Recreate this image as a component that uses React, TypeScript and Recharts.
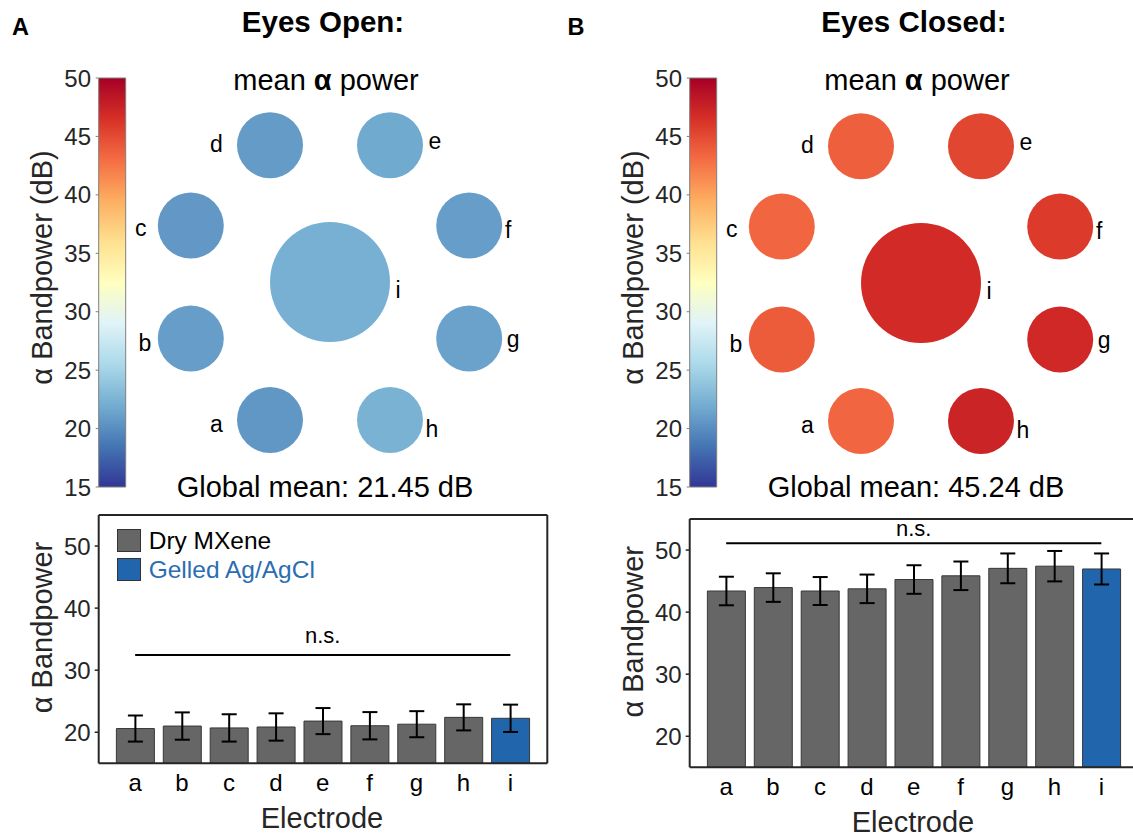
import React from 'react';
import {
  BarChart,
  Bar,
  XAxis,
  YAxis,
  ErrorBar,
  ReferenceLine,
  Legend,
  ScatterChart,
  Scatter,
} from 'recharts';

const FONT = '"Liberation Sans", Arial, Helvetica, sans-serif';

// ---- data ----
const electrodes = ['a', 'b', 'c', 'd', 'e', 'f', 'g', 'h', 'i'];
const referenceElectrode = 'i';

// mean alpha bandpower (dB) and error per electrode
const openMean = [20.6, 21.0, 20.7, 20.85, 21.8, 21.05, 21.3, 22.4, 22.25];
const openErr = [2.1, 2.2, 2.2, 2.2, 2.1, 2.2, 2.1, 2.1, 2.2];
const closedMean = [43.4, 43.95, 43.4, 43.75, 45.25, 45.85, 47.05, 47.4, 46.95];
const closedErr = [2.3, 2.3, 2.25, 2.3, 2.3, 2.3, 2.4, 2.45, 2.5];

const openGlobalMean = 21.45;
const closedGlobalMean = 45.24;

// height of the n.s. comparison bracket
const openSigLevel = 32.45;
const closedSigLevel = 51.1;

// electrode layout on the head (arbitrary units, centre = reference)
const electrodeX = [-0.5, -1.16, -1.16, -0.5, 0.5, 1.16, 1.16, 0.5, 0];
const electrodeY = [-1.15, -0.47, 0.47, 1.14, 1.14, 0.47, -0.47, -1.15, 0];

const barTicks = [20, 30, 40, 50];
const colorbarTicks = [15, 20, 25, 30, 35, 40, 45, 50];
const colorRange: [number, number] = [15, 50];

const seriesNames = ['Dry MXene', 'Gelled Ag/AgCl'];

// ---- styles ----
const colormapStops = [
  '#313695', '#4575b4', '#74add1', '#abd9e9', '#e0f3f8', '#ffffbf',
  '#fee090', '#fdae61', '#f46d43', '#d73027', '#a50026',
];
const DRY_FILL = '#666666';
const GEL_FILL = '#2166ac';
const GEL_TEXT = '#2a6db2';
const AXIS = '#262626';

// label placement around each electrode disc: [dx to glyph centre, dy to baseline]
const labelOffset: Record<string, [number, number]> = {
  a: [-53.5, 11.7],
  b: [-46, 12.7],
  c: [-50, 10.4],
  d: [-53.5, 7],
  e: [45, 3.3],
  f: [39, 12],
  g: [44, 8.5],
  h: [42, 17],
  i: [68, 15.7],
};

function hexToRgb(h: string) {
  const n = parseInt(h.slice(1), 16);
  return [(n >> 16) & 255, (n >> 8) & 255, n & 255];
}

function colormap(v: number) {
  const t = Math.min(1, Math.max(0, (v - colorRange[0]) / (colorRange[1] - colorRange[0])));
  const pos = t * (colormapStops.length - 1);
  const k = Math.min(colormapStops.length - 2, Math.floor(pos));
  const f = pos - k;
  const c0 = hexToRgb(colormapStops[k]);
  const c1 = hexToRgb(colormapStops[k + 1]);
  const c = c0.map((x, j) => Math.round(x + (c1[j] - x) * f));
  return `rgb(${c[0]},${c[1]},${c[2]})`;
}

function ElectrodeDisc(props: any) {
  const { cx, cy, payload } = props;
  const isRef = payload.name === referenceElectrode;
  const r = isRef ? 60 : 33;
  const [lx, ly] = labelOffset[payload.name];
  return (
    <g>
      <circle cx={cx} cy={cy} r={r} fill={colormap(payload.value)} />
      <text x={cx + lx} y={cy + ly} textAnchor="middle" fontSize={23} fill="#000">
        {payload.name}
      </text>
    </g>
  );
}

function Topography({ means }: { means: number[] }) {
  const data = electrodes.map((name, k) => ({
    name,
    x: electrodeX[k],
    y: electrodeY[k],
    value: means[k],
  }));
  return (
    <ScatterChart width={400} height={400} margin={{ top: 0, right: 0, bottom: 0, left: 0 }}>
      <XAxis type="number" dataKey="x" domain={[-5 / 3, 5 / 3]} hide />
      <YAxis type="number" dataKey="y" domain={[-5 / 3, 5 / 3]} hide />
      <Scatter data={data} isAnimationActive={false} shape={(p: any) => <ElectrodeDisc {...p} />} />
    </ScatterChart>
  );
}

function Colorbar({ gradId }: { gradId: string }) {
  const data = [{ name: 'cb', range: colorRange }];
  return (
    <BarChart
      width={130}
      height={450}
      data={data}
      margin={{ top: 18, right: 4, bottom: 23, left: 0 }}
      barCategoryGap={0}
    >
      <defs>
        <linearGradient id={gradId} x1="0" y1="1" x2="0" y2="0">
          {colormapStops.map((c, k) => (
            <stop key={k} offset={k / (colormapStops.length - 1)} stopColor={c} />
          ))}
        </linearGradient>
      </defs>
      <XAxis dataKey="name" hide />
      <YAxis
        type="number"
        domain={colorRange}
        ticks={colorbarTicks}
        interval={0}
        width={98.7}
        tickSize={3}
        tickMargin={4.7}
        axisLine={false}
        tickLine={{ stroke: '#7f7f7f' }}
        tick={{ fontSize: 24, fill: AXIS }}
      />
      <Bar dataKey="range" fill={`url(#${gradId})`} stroke="#7f7f7f" strokeWidth={1} isAnimationActive={false} />
    </BarChart>
  );
}

function LegendContent(props: any) {
  const { payload } = props;
  return (
    <div style={{ fontFamily: FONT }}>
      {(payload || []).map((p: any, k: number) => (
        <div key={k} style={{ display: 'flex', alignItems: 'center', height: 29 }}>
          <span
            style={{
              display: 'inline-block',
              width: 23.4,
              height: 22.4,
              background: p.color,
              border: '1px solid #333',
              boxSizing: 'border-box',
            }}
          />
          <span
            style={{
              marginLeft: 8,
              fontSize: 24.5,
              lineHeight: '29px',
              color: k === 0 ? '#000' : GEL_TEXT,
              whiteSpace: 'nowrap',
            }}
          >
            {p.value}
          </span>
        </div>
      ))}
    </div>
  );
}

function ElectrodeBars({
  means,
  errs,
  sig,
  sigOffset,
  showLegend,
}: {
  means: number[];
  errs: number[];
  sig: number;
  sigOffset: number;
  showLegend: boolean;
}) {
  const rows = electrodes.map((name, k) => {
    const isRef = name === referenceElectrode;
    return {
      name,
      dry: isRef ? null : means[k],
      dryErr: isRef ? undefined : errs[k],
      gel: isRef ? means[k] : null,
      gelErr: isRef ? errs[k] : undefined,
    };
  });
  const pad = { left: 13, right: 13.5 };
  const frame = { stroke: AXIS, strokeWidth: 2 };
  return (
    <BarChart
      width={560}
      height={337}
      data={rows}
      margin={{ top: 15, right: 12.7, bottom: 43.7, left: 0 }}
      barCategoryGap="10%"
    >
      <XAxis
        xAxisId="bottom"
        dataKey="name"
        padding={pad}
        height={30}
        tickLine={false}
        tickSize={6}
        tickMargin={4.4}
        axisLine={frame}
        tick={{ fontSize: 24, fill: '#000' }}
        interval={0}
      />
      <XAxis
        xAxisId="top"
        dataKey="name"
        orientation="top"
        padding={pad}
        height={30}
        mirror
        tick={false}
        tickSize={5}
        axisLine={frame}
        tickLine={{ stroke: AXIS, strokeWidth: 1.5 }}
        interval={0}
      />
      <YAxis
        yAxisId="left"
        type="number"
        domain={[15, 55]}
        ticks={barTicks}
        interval={0}
        width={98.7}
        tickSize={4}
        tickMargin={4}
        axisLine={frame}
        tickLine={{ stroke: AXIS, strokeWidth: 1.5 }}
        tick={{ fontSize: 24, fill: AXIS }}
      />
      <YAxis
        yAxisId="right"
        orientation="right"
        type="number"
        domain={[15, 55]}
        ticks={barTicks}
        interval={0}
        width={30}
        mirror
        tick={false}
        tickSize={5}
        axisLine={frame}
        tickLine={{ stroke: AXIS, strokeWidth: 1.5 }}
      />
      <Bar
        xAxisId="bottom"
        yAxisId="left"
        dataKey="dry"
        name={seriesNames[0]}
        fill={DRY_FILL}
        stroke="#383838"
        strokeWidth={1}
        isAnimationActive={false}
      >
        <ErrorBar dataKey="dryErr" width={7.5} stroke="#000" strokeWidth={2} />
      </Bar>
      <Bar
        xAxisId="top"
        yAxisId="right"
        dataKey="gel"
        name={seriesNames[1]}
        fill={GEL_FILL}
        stroke="#383838"
        strokeWidth={1}
        isAnimationActive={false}
      >
        <ErrorBar dataKey="gelErr" width={7.5} stroke="#000" strokeWidth={2} />
      </Bar>
      <ReferenceLine
        xAxisId="bottom"
        yAxisId="left"
        segment={[
          { x: electrodes[0], y: sig },
          { x: electrodes[electrodes.length - 1], y: sig },
        ]}
        stroke="#000"
        strokeWidth={2}
        label={{ value: 'n.s.', position: 'top', offset: sigOffset, fontSize: 22, fill: '#000' }}
      />
      {showLegend && (
        <Legend
          layout="vertical"
          align="center"
          verticalAlign="middle"
          content={<LegendContent />}
          wrapperStyle={{ position: 'absolute', left: 117.3, top: 26, width: 'auto', height: 'auto' }}
        />
      )}
    </BarChart>
  );
}

type PanelSpec = {
  letter: string;
  title: string;
  means: number[];
  errs: number[];
  globalMean: number;
  sig: number;
  sigOffset: number;
  dx: number;
  topoDy: number;
  barDy: number;
  letterX: number;
  showLegend: boolean;
};

const panels: PanelSpec[] = [
  {
    letter: 'A',
    title: 'Eyes Open:',
    means: openMean,
    errs: openErr,
    globalMean: openGlobalMean,
    sig: openSigLevel,
    sigOffset: 12,
    dx: 0,
    topoDy: 0,
    barDy: 0,
    letterX: 12,
    showLegend: true,
  },
  {
    letter: 'B',
    title: 'Eyes Closed:',
    means: closedMean,
    errs: closedErr,
    globalMean: closedGlobalMean,
    sig: closedSigLevel,
    sigOffset: 7,
    dx: 590.6,
    topoDy: 1,
    barDy: 4.3,
    letterX: -23.6,
    showLegend: false,
  },
];

function Panel({ spec }: { spec: PanelSpec }) {
  const abs = (left: number, top: number): React.CSSProperties => ({ position: 'absolute', left, top });
  return (
    <div style={{ position: 'absolute', left: spec.dx, top: 0, width: 560, height: 837 }}>
      <div style={abs(0, 60)}>
        <Colorbar gradId={`cbGrad${spec.letter}`} />
      </div>
      <div style={abs(130, 82 + spec.topoDy)}>
        <Topography means={spec.means} />
      </div>
      <div style={abs(0, 500 + spec.barDy)}>
        <ElectrodeBars
          means={spec.means}
          errs={spec.errs}
          sig={spec.sig}
          sigOffset={spec.sigOffset}
          showLegend={spec.showLegend}
        />
      </div>
      <svg
        width={560}
        height={837}
        style={{ position: 'absolute', left: 0, top: 0, pointerEvents: 'none', overflow: 'visible' }}
      >
        <text x={spec.letterX} y={35} fontSize={23.5} fontWeight="bold" fill="#000">
          {spec.letter}
        </text>
        <text x={323} y={32} textAnchor="middle" fontSize={29.5} fontWeight="bold" fill="#000">
          {spec.title}
        </text>
        <text x={326} y={89.5} textAnchor="middle" fontSize={29} fill="#000">
          mean <tspan fontWeight="bold">α</tspan> power
        </text>
        <text x={325} y={497} textAnchor="middle" fontSize={29} fill="#000">
          {`Global mean: ${spec.globalMean.toFixed(2)} dB`}
        </text>
        <text transform="translate(52,267.5) rotate(-90)" textAnchor="middle" fontSize={29} fill={AXIS}>
          α Bandpower (dB)
        </text>
        <text
          transform={`translate(51.5,${627.5 + spec.barDy}) rotate(-90)`}
          textAnchor="middle"
          fontSize={29}
          fill={AXIS}
        >
          α Bandpower
        </text>
        <text x={322} y={828 + spec.barDy} textAnchor="middle" fontSize={29} fill={AXIS}>
          Electrode
        </text>
      </svg>
    </div>
  );
}

export default function App() {
  return (
    <div
      style={{
        position: 'fixed',
        left: 0,
        top: 0,
        width: 1133,
        height: 837,
        overflow: 'hidden',
        background: '#fff',
        fontFamily: FONT,
      }}
    >
      {panels.map((p) => (
        <Panel key={p.letter} spec={p} />
      ))}
    </div>
  );
}
